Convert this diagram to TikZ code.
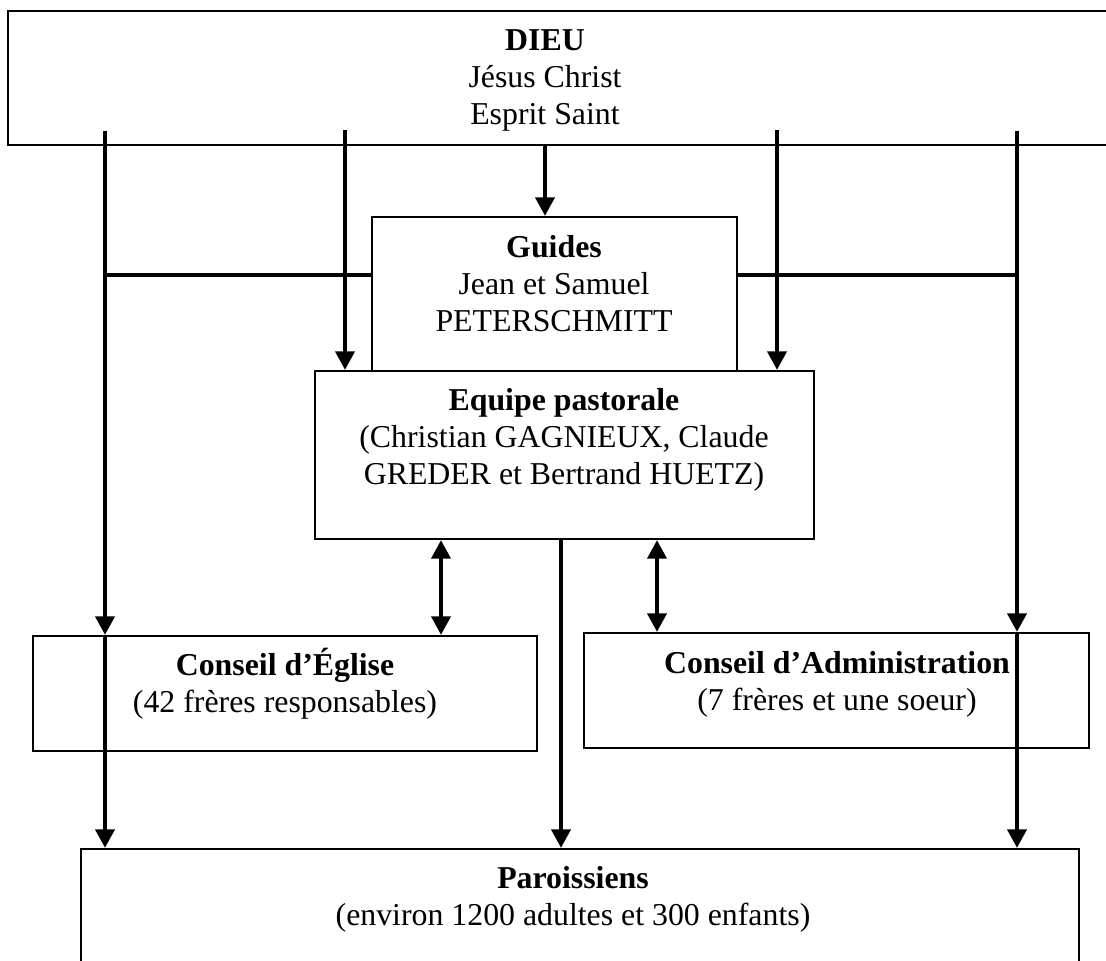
\documentclass[tikz,border=0pt]{standalone}
\usepackage{fontspec}
\setmainfont{Liberation Serif}
\usetikzlibrary{arrows.meta,positioning,fit}

\tikzset{
  box/.style={draw, line width=0.75pt, inner sep=0pt},
  txt/.style={align=center, inner sep=0pt, anchor=base,
    font=\fontsize{12}{13.9}\selectfont},
  flow/.style={line width=1.8pt, -{Triangle[width=7pt,length=7pt]}},
  both/.style={line width=1.8pt,
    {Triangle[width=7pt,length=7pt]}-{Triangle[width=7pt,length=7pt]}},
  link/.style={line width=1.4pt}
}

\begin{document}
\begin{tikzpicture}[x=0.377pt, y=-0.377pt]
  \useasboundingbox (0,0) rectangle (1106,960);

  % boxes
  \node[box, fit={(8,11) (1115,145)}] (dieu) {};
  \node[box, fit={(372,217) (737,371)}] (guides) {};
  \node[box, fill=white, fit={(315,371) (814,539)}] (equipe) {};
  \node[box, fit={(33,636) (537,751)}] (eglise) {};
  \node[box, fit={(584,633) (1089,748)}] (admin) {};
  \node[box, fit={(81,849) (1079,975)}] (paroissiens) {};

  % texts (placed by the baseline of their last line)
  \node[txt] (dieutext) at (545,124) {\textbf{DIEU}\\Jésus Christ\\Esprit Saint};
  \node[txt] (guidestext) at (554,331) {\textbf{Guides}\\Jean et Samuel\\PETERSCHMITT};
  \node[txt] (equipetext) at (564,484) {\textbf{Equipe pastorale}\\(Christian GAGNIEUX, Claude\\GREDER et Bertrand HUETZ)};
  \node[txt] (eglisetext) at (285,712) {\textbf{Conseil d’Église}\\(42 frères responsables)};
  \node[txt] (admintext) at (837,710) {\textbf{Conseil d’Administration}\\(7 frères et une soeur)};
  \node[txt] (paroissienstext) at (573,925) {\textbf{Paroissiens}\\(environ 1200 adultes et 300 enfants)};

  % line ends
  \coordinate (top1) at (105,131);
  \coordinate (top2) at (345,130);
  \coordinate (top3) at (777,130);
  \coordinate (top4) at (1017,131);
  \coordinate (bar) at (0,275);
  \coordinate (up1) at (441,0);
  \coordinate (up2) at (657,0);
  \coordinate (mid) at (561,0);

  % connectors
  \draw[flow] (dieutext |- dieu.south) -- (dieutext |- guides.north);
  \draw[flow] (top1) -- (top1 |- eglise.north);
  \draw[flow] (top1 |- eglise.north) -- (top1 |- paroissiens.north);
  \draw[flow] (top2) -- (top2 |- equipe.north);
  \draw[flow] (top3) -- (top3 |- equipe.north);
  \draw[flow] (top4) -- (top4 |- admin.north);
  \draw[flow] (top4 |- admin.north) -- (top4 |- paroissiens.north);
  \draw[link] (top1 |- bar) -- (guides.west |- bar);
  \draw[link] (guides.east |- bar) -- (top4 |- bar);
  \draw[both] (up1 |- equipe.south) -- (up1 |- eglise.north);
  \draw[both] (up2 |- equipe.south) -- (up2 |- admin.north);
  \draw[flow] (mid |- equipe.south) -- (mid |- paroissiens.north);
\end{tikzpicture}
\end{document}
